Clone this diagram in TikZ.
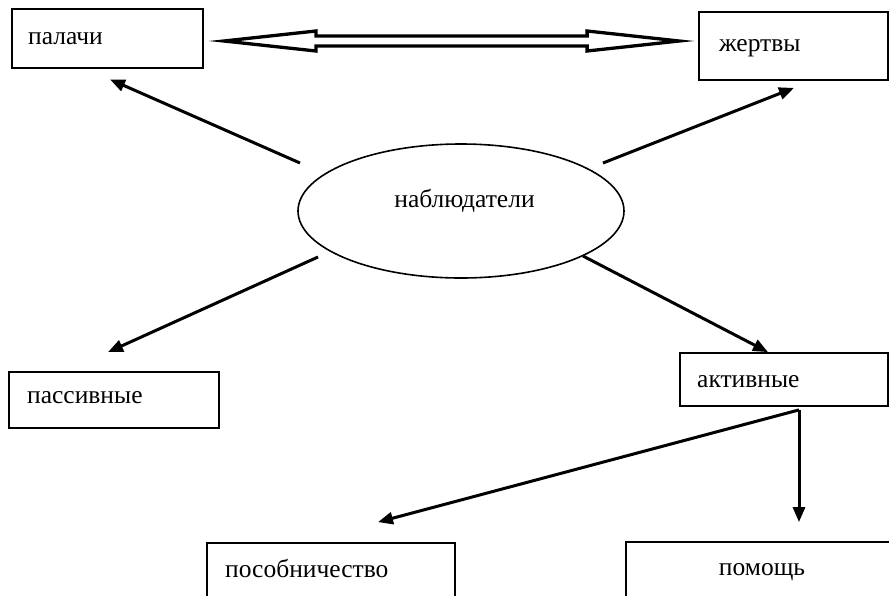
\documentclass[tikz,border=0pt]{standalone}
\usepackage{fontspec}
\setmainfont{Liberation Serif}
\usetikzlibrary{arrows.meta,shapes.geometric,calc}
\tikzset{
  boxnode/.style={draw=black,line width=1.8pt,rectangle,inner sep=0pt},
  lbl/.style={inner sep=0pt,font=\fontsize{25.5}{30}\selectfont},
  conn/.style={line width=3pt,-{Triangle[length=15pt,width=12pt]}},
  dbl/.style={draw=black,line width=3.3pt,line join=miter},
}
\begin{document}
\begin{tikzpicture}[x=1pt,y=-1pt]
\useasboundingbox (0,0) rectangle (889,595);
% boxes
\node[boxnode,minimum width=191pt,minimum height=59pt] (pal) at (107.5,38.5) {};
\node[boxnode,minimum width=189pt,minimum height=68pt] (zhe) at (793.5,46) {};
\node[boxnode,minimum width=210pt,minimum height=56pt] (pas) at (114,400) {};
\node[boxnode,minimum width=208pt,minimum height=53pt] (akt) at (784,379.5) {};
\node[boxnode,minimum width=248pt,minimum height=67pt] (pos) at (331,576.5) {};
\node[boxnode,minimum width=269pt,minimum height=68pt] (pom) at (760.5,576) {};
\node[draw=black,line width=1.6pt,ellipse,inner sep=0pt,minimum width=326pt,minimum height=134pt] (obs) at (461,211) {};
% labels
\node[lbl,anchor=base west] (palt) at (28,44) {палачи};
\node[lbl,anchor=base west] (zhet) at (719,51) {жертвы};
\node[lbl,anchor=base west] (past) at (27,403) {пассивные};
\node[lbl,anchor=base west] (aktt) at (697,387) {активные};
\node[lbl,anchor=base west] (post) at (225,577) {пособничество};
\node[lbl,anchor=base] (pomt) at (762,575) {помощь};
\node[lbl,anchor=base] (obst) at (464.5,207) {наблюдатели};
% double arrow between палачи and жертвы
\coordinate (dl) at ([shift={(20,2.5)}]pal.east);
\coordinate (dr) at ([shift={(-19,-5)}]zhe.west);
\draw[dbl] (dl) -- ($(dl)+(92,-10)$) -- ($(dl)+(92,-5)$) -- ($(dr)+(-92,-5)$) -- ($(dr)+(-92,-10)$)
  -- (dr) -- ($(dr)+(-92,10)$) -- ($(dr)+(-92,5)$) -- ($(dl)+(92,5)$) -- ($(dl)+(92,10)$) -- cycle;
% connectors
\draw[conn] ([shift={(-161,-48)}]obs.center) -- ([shift={(2.5,10.5)}]pal.south);
\draw[conn] ([shift={(142,-48)}]obs.center) -- ([shift={(0.5,7)}]zhe.south);
\draw[conn] ([shift={(-143,46)}]obs.center) -- ([shift={(-6,-19)}]pas.north);
\draw[conn] ([shift={(122,45)}]obs.center) -- ([shift={(-16,0)}]akt.north);
\coordinate (ak) at ([shift={(15,3)}]akt.south);
\draw[conn] (ak) -- ([shift={(47,-20)}]pos.north);
\draw[conn] (ak) -- ([shift={(38.5,-19)}]pom.north);
\end{tikzpicture}
\end{document}
